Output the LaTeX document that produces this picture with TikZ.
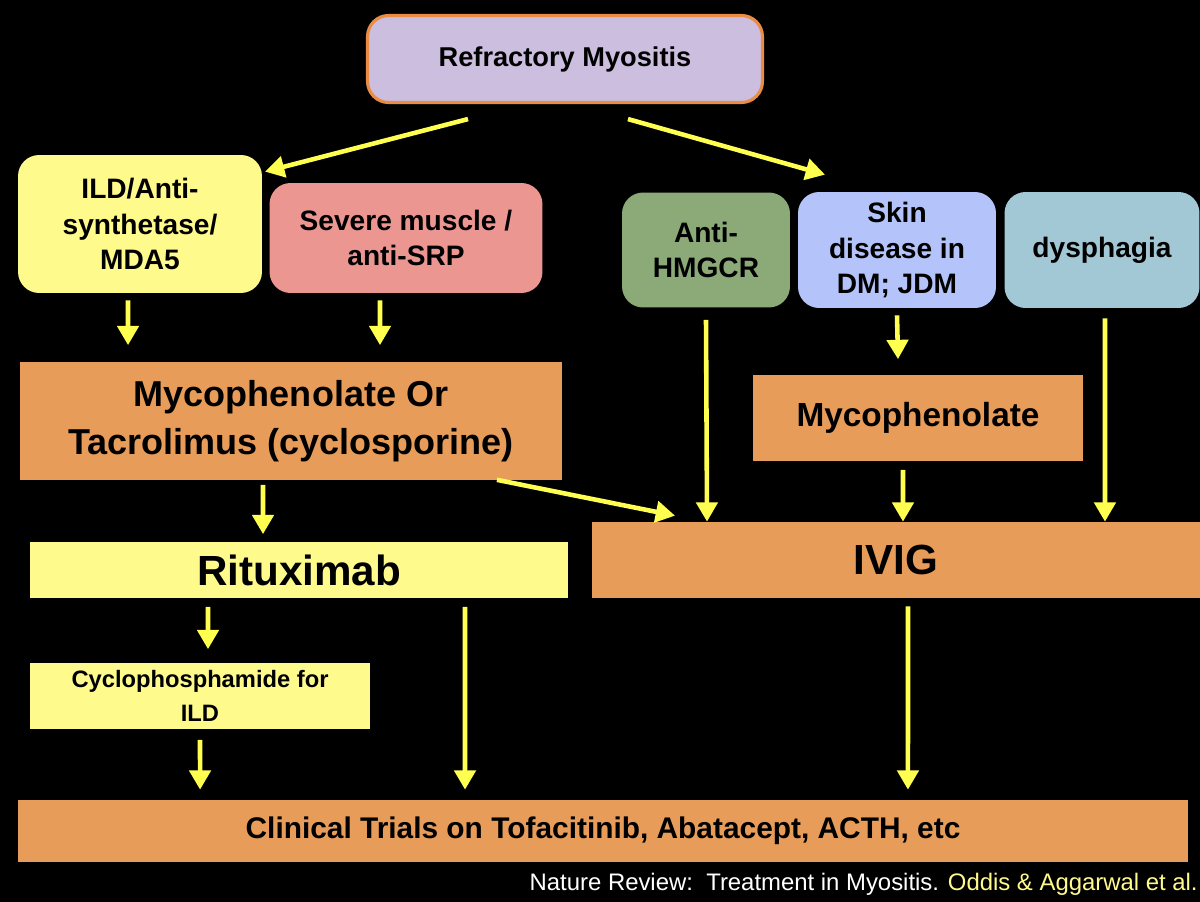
\documentclass[tikz,border=0pt]{standalone}
\usepackage{fontspec}
\setmainfont{Liberation Sans}
\usetikzlibrary{arrows.meta}
\definecolor{lav}{RGB}{204,190,222}
\definecolor{bord}{RGB}{232,140,70}
\definecolor{pale}{RGB}{255,250,140}
\definecolor{salmon}{RGB}{236,150,145}
\definecolor{sage}{RGB}{140,170,120}
\definecolor{skin}{RGB}{180,196,250}
\definecolor{sky}{RGB}{162,200,214}
\definecolor{orng}{RGB}{232,156,90}
\definecolor{arr}{RGB}{255,255,80}

\begin{document}
\begin{tikzpicture}[x=0.02cm, y=-0.02cm,
  box/.style={draw=none, align=center, font=\bfseries, inner sep=2pt},
  rbox/.style={box, rounded corners=12pt},
  flow/.style={->, >={Triangle[length=11pt,width=12pt]}, line width=2.6pt, arr}]
\fill[black] (0,0) rectangle (1200,902);
\useasboundingbox (0,0) rectangle (1200,902);

\node[rbox, fill=lav, draw=bord, line width=1.8pt, minimum width=7.9cm, minimum height=1.74cm, font=\bfseries\fontsize{15.5}{18}\selectfont] (top) at (565,59) {Refractory Myositis};

\node[rbox, fill=pale, minimum width=4.88cm, minimum height=2.76cm, font=\bfseries\fontsize{16}{20}\selectfont] (ild) at (140,224) {ILD/Anti-\\synthetase/\\MDA5};
\node[rbox, fill=salmon, minimum width=5.46cm, minimum height=2.2cm, font=\bfseries\fontsize{16}{20}\selectfont] (srp) at (406,238) {Severe muscle /\\anti-SRP};
\node[rbox, fill=sage, minimum width=3.36cm, minimum height=2.3cm, font=\bfseries\fontsize{16}{20}\selectfont] (hmg) at (706,250) {Anti-\\HMGCR};
\node[rbox, fill=skin, minimum width=3.96cm, minimum height=2.32cm, font=\bfseries\fontsize{16}{20}\selectfont] (skin) at (897,250) {Skin\\disease in\\DM; JDM};
\node[rbox, fill=sky, minimum width=3.9cm, minimum height=2.32cm, font=\bfseries\fontsize{16}{20}\selectfont] (dys) at (1102,250) {dysphagia};

\node[box, fill=orng, minimum width=10.84cm, minimum height=2.38cm, font=\bfseries\fontsize{20.5}{27}\selectfont] (myta) at (291,421) {Mycophenolate Or\\Tacrolimus (cyclosporine)};
\node[box, fill=orng, minimum width=6.6cm, minimum height=1.74cm, font=\bfseries\fontsize{19}{23}\selectfont] (myco) at (918,418) {Mycophenolate};

\node[box, fill=pale, minimum width=10.76cm, minimum height=1.14cm, font=\bfseries\fontsize{24}{28}\selectfont] (ritu) at (299,570) {Rituximab};
\node[box, fill=orng, minimum width=12.16cm, minimum height=1.52cm, font=\bfseries\fontsize{24}{28}\selectfont] (ivig) at (896,560) {IVIG};

\node[box, fill=pale, minimum width=6.8cm, minimum height=1.34cm, font=\bfseries\fontsize{13.5}{19}\selectfont] (cyc) at (200,696) {Cyclophosphamide for\\ILD};
\node[box, fill=orng, minimum width=23.4cm, minimum height=1.24cm, font=\bfseries\fontsize{17}{20}\selectfont] (ct) at (603,831) {Clinical Trials on Tofacitinib, Abatacept, ACTH, etc};

\node[anchor=east, inner sep=0pt, text=white, font=\fontsize{13.6}{16}\selectfont] (src) at (1198,884) {Nature Review:\ \ Treatment in Myositis. \textcolor{pale}{Oddis \& Aggarwal et al.}};

\draw[flow] ([xshift=-1.94cm,yshift=-0.3cm] top.south) -- ([xshift=2.5cm,yshift=-0.34cm] ild.north);
\draw[flow] ([xshift=1.26cm,yshift=-0.3cm] top.south) -- ([xshift=-1.44cm,yshift=0.34cm] skin.north);
\draw[flow] ([xshift=-0.24cm,yshift=-0.14cm] ild.south) -- ([xshift=-3.26cm,yshift=0.32cm] myta.north);
\draw[flow] ([xshift=-0.52cm,yshift=-0.14cm] srp.south) -- ([xshift=1.78cm,yshift=0.32cm] myta.north);
\draw[flow] ([yshift=-0.24cm] hmg.south) -- ([xshift=-3.78cm] ivig.north);
\draw[flow] ([yshift=-0.14cm] skin.south) -- ([xshift=-0.4cm,yshift=0.3cm] myco.north);
\draw[flow] ([xshift=0.06cm,yshift=-0.2cm] dys.south) -- ([xshift=4.18cm] ivig.north);
\draw[flow] ([xshift=-0.56cm,yshift=-0.08cm] myta.south) -- ([xshift=-0.72cm,yshift=0.14cm] ritu.north);
\draw[flow] ([xshift=4.12cm,yshift=0.02cm] myta.south) -- ([xshift=-4.42cm,yshift=0.12cm] ivig.north);
\draw[flow] ([xshift=-0.3cm,yshift=-0.16cm] myco.south) -- ([xshift=0.14cm] ivig.north);
\draw[flow] ([xshift=-1.82cm,yshift=-0.16cm] ritu.south) -- ([xshift=0.16cm,yshift=0.26cm] cyc.north);
\draw[flow] ([xshift=3.32cm,yshift=-0.16cm] ritu.south) -- ([xshift=-2.76cm,yshift=0.2cm] ct.north);
\draw[flow] ([xshift=0.24cm,yshift=-0.16cm] ivig.south) -- ([xshift=6.1cm,yshift=0.2cm] ct.north);
\draw[flow] ([yshift=-0.2cm] cyc.south) -- ([xshift=-8.06cm,yshift=0.2cm] ct.north);
\end{tikzpicture}
\end{document}
